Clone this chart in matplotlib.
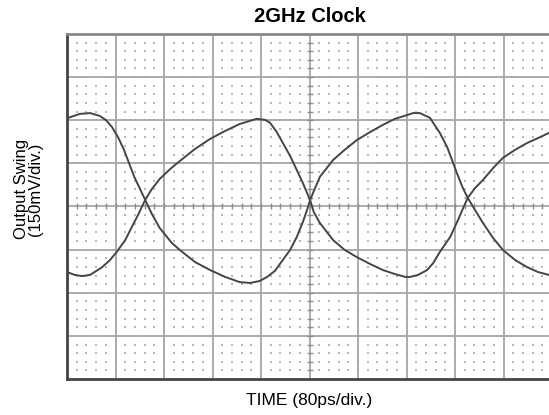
import numpy as np
import matplotlib
matplotlib.use("Agg")
import matplotlib.pyplot as plt

# Time in ps (80 ps/div), voltage in mV (150 mV/div), centred at 0
time_a = [0, 21, 38, 54, 64, 74, 84, 94, 111, 129, 140, 153, 173, 186, 211, 236, 261,
          285, 302, 318, 330, 343, 356, 368, 379, 389, 396, 401, 417, 439, 458, 478,
          500, 521, 541, 561, 571, 582, 599, 604, 615, 627, 635, 643, 653, 661, 673,
          686, 703, 719, 739, 759, 777, 795, 805]
volt_a = [307, 322, 325, 315, 301, 277, 242, 197, 103, 23, -26, -75, -127, -151, -193,
          -221, -245, -263, -266, -259, -245, -224, -186, -151, -106, -54, -12, 23,
          103, 162, 197, 231, 259, 284, 305, 318, 325, 325, 308, 291, 256, 207, 162,
          117, 64, 30, -12, -57, -110, -151, -186, -211, -228, -238, -242]

time_b = [0, 13, 25, 38, 58, 71, 82, 96, 107, 117, 129, 140, 153, 170, 186, 211,
          236, 261, 285, 302, 313, 327, 335, 346, 356, 368, 379, 389, 396, 401, 407,
          417, 439, 458, 478, 500, 521, 541, 558, 566, 579, 594, 604, 615, 632, 645,
          655, 661, 673, 686, 703, 719, 739, 759, 777, 795, 805]
volt_b = [-228, -238, -242, -238, -211, -186, -158, -117, -71, -30, 23, 61, 96,
          130, 158, 200, 235, 263, 287, 298, 305, 301, 291, 259, 221, 176, 127, 82,
          47, 23, -19, -57, -117, -151, -176, -200, -221, -235, -245, -245, -238,
          -221, -197, -158, -106, -47, 2, 30, 64, 92, 134, 169, 197, 221, 238, 256,
          260]

title = "2GHz Clock"
xlabel = "TIME (80ps/div.)"
ylabel_lines = ["Output Swing", "(150mV/div.)"]
x_div, y_div = 80, 150
n_xdiv, n_ydiv = 10, 8

W, H = 549, 415
fig = plt.figure(figsize=(W / 100, H / 100), dpi=100)
left, right, top, bottom = 67, 552, 34, 379
ax = fig.add_axes([left / W, 1 - bottom / H, (right - left) / W, (bottom - top) / H])
ax.set_xlim(0, n_xdiv * x_div)
ax.set_ylim(-n_ydiv / 2 * y_div, n_ydiv / 2 * y_div)
ax.set_xticks([])
ax.set_yticks([])

# dotted background at sub-divisions
xs = np.arange(0, n_xdiv * x_div + 1e-6, x_div / 5)
ys = np.arange(-n_ydiv / 2 * y_div, n_ydiv / 2 * y_div + 1e-6, y_div / 5)
XX, YY = np.meshgrid(xs, ys)
ax.scatter(XX.ravel(), YY.ravel(), s=1.6, marker='s', color='#b8b8b8',
           linewidths=0, zorder=1)

# major grid
grid_c = '#a6a6a6'
for gx in np.arange(x_div, n_xdiv * x_div, x_div):
    ax.axvline(gx, color=grid_c, lw=1.3, zorder=2)
for gy in np.arange(-n_ydiv / 2 * y_div + y_div, n_ydiv / 2 * y_div, y_div):
    ax.axhline(gy, color=grid_c, lw=1.3, zorder=2)

# centre-line tick marks
cx = n_xdiv / 2 * x_div
ax.plot(xs, np.zeros_like(xs), linestyle='none', marker='|', markersize=5,
        color='#8c8c8c', mew=1.0, zorder=2)
ax.plot(np.full_like(ys, cx), ys, linestyle='none', marker='_', markersize=5,
        color='#8c8c8c', mew=1.0, zorder=2)

# waveforms
wave_c = '#454545'
ax.plot(time_a, volt_a, color=wave_c, lw=1.4, zorder=3, solid_joinstyle='round')
ax.plot(time_b, volt_b, color=wave_c, lw=1.4, zorder=3, solid_joinstyle='round')

for side in ['left', 'bottom']:
    ax.spines[side].set_color('#444444')
    ax.spines[side].set_linewidth(2.0)
ax.spines['top'].set_color('#888888')
ax.spines['top'].set_linewidth(2.0)
ax.spines['right'].set_visible(False)

font = ['Liberation Sans', 'DejaVu Sans']
cxf = ((left + right) / 2) / W
fig.text(cxf, 1 - 17 / H, title, ha='center', va='center',
         fontsize=14.5, fontweight='bold', family=font)
fig.text(cxf, 1 - 400 / H, xlabel, ha='center', va='center',
         fontsize=12.5, family=font)
narrow = ['Liberation Sans Narrow', 'Liberation Sans', 'DejaVu Sans']
fig.text(22 / W, 1 - 189 / H, ylabel_lines[0], rotation=90, ha='center', va='center',
         fontsize=12, family=narrow)
fig.text(36 / W, 1 - 189 / H, ylabel_lines[1], rotation=90, ha='center', va='center',
         fontsize=12, family=narrow)

fig.savefig("out.png", dpi=100)
